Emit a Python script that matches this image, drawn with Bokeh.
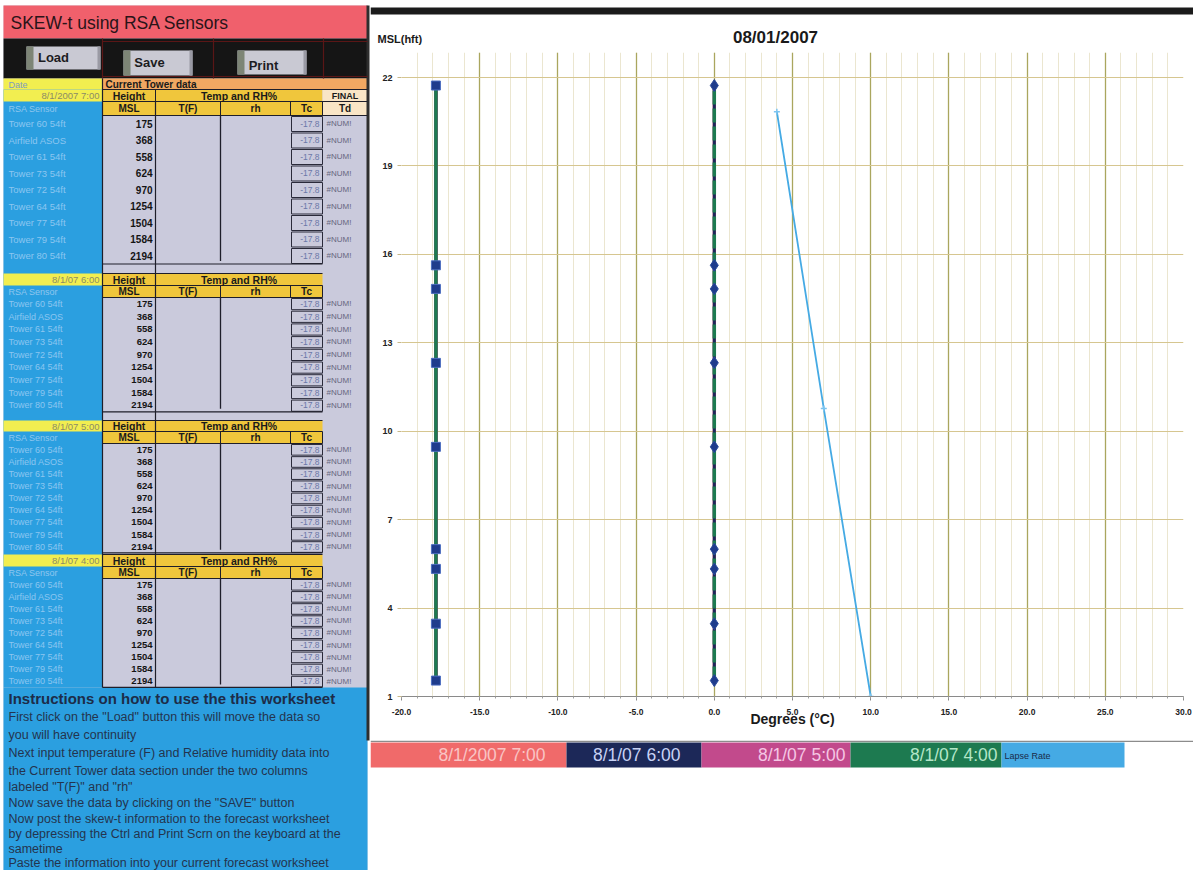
from collections import defaultdict

from bokeh.core.properties import value
from bokeh.embed import file_html
from bokeh.layouts import column, row
from bokeh.models import FixedTicker, NumeralTickFormatter, Range1d
from bokeh.plotting import figure
from bokeh.resources import INLINE

# ---------------------------------------------------------------- data
run_times = ["8/1/2007 7:00", "8/1/07 6:00", "8/1/07 5:00", "8/1/07 4:00"]
run_colors = ["#f06a6a", "#1c2858", "#c24a8c", "#1d7a50"]
lapse_label = "Lapse Rate"
lapse_color = "#45aae4"

sensor_names = ["Tower 60 54ft", "Airfield ASOS", "Tower 61 54ft", "Tower 73 54ft",
                "Tower 72 54ft", "Tower 64 54ft", "Tower 77 54ft", "Tower 79 54ft",
                "Tower 80 54ft"]
msl_ft = [175, 368, 558, 624, 970, 1254, 1504, 1584, 2194]
tc_table = ["-17.8", "-17.8", "-17.8", "-17.8", "-17.8", "-17.8", "-17.8", "-17.8", "-17.8"]
td_table = ["#NUM!", "#NUM!", "#NUM!", "#NUM!", "#NUM!", "#NUM!", "#NUM!", "#NUM!", "#NUM!"]

# plotted sounding (heights in hundreds of feet)
plot_height_hft = [1.54, 3.47, 5.33, 6.00, 9.47, 12.32, 14.83, 15.63, 21.73]
tc_7 = [-17.8, -17.8, -17.8, -17.8, -17.8, -17.8, -17.8, -17.8, -17.8]
tc_6 = [-17.8, -17.8, -17.8, -17.8, -17.8, -17.8, -17.8, -17.8, -17.8]
tc_5 = [-17.8, -17.8, -17.8, -17.8, -17.8, -17.8, -17.8, -17.8, -17.8]
tc_4 = [-17.8, -17.8, -17.8, -17.8, -17.8, -17.8, -17.8, -17.8, -17.8]
td_7 = [0.0, 0.0, 0.0, 0.0, 0.0, 0.0, 0.0, 0.0, 0.0]
td_6 = [0.0, 0.0, 0.0, 0.0, 0.0, 0.0, 0.0, 0.0, 0.0]
td_5 = [0.0, 0.0, 0.0, 0.0, 0.0, 0.0, 0.0, 0.0, 0.0]
td_4 = [0.0, 0.0, 0.0, 0.0, 0.0, 0.0, 0.0, 0.0, 0.0]
lapse_temp = [10.0, 7.0, 4.0]
lapse_height = [1.0, 10.77, 20.84]

x_ticks = [-20, -15, -10, -5, 0, 5, 10, 15, 20, 25, 30]
y_ticks = [1, 4, 7, 10, 13, 16, 19, 22]
chart_date = "08/01/2007"
y_title = "MSL(hft)"
x_title = "Degrees (°C)"

instructions_title = "Instructions on how to use the this worksheet"
instructions = [
    "First click on the \"Load\" button this will move the data so",
    "you will have continuity",
    "Next input temperature (F) and Relative humidity data into",
    " the Current Tower data section under the two columns",
    " labeled \"T(F)\" and \"rh\"",
    "Now save the data by clicking on the \"SAVE\" button",
    "Now post the skew-t information to the forecast worksheet",
    "by depressing the Ctrl and Print Scrn on the keyboard at the",
    "sametime",
    "Paste the information into your current forecast worksheet",
]

FONT = "Liberation Sans"


class Sheet:
    """Collects boxes, rules and texts for a pixel-space panel and draws them grouped."""

    def __init__(self, fig):
        self.fig = fig
        self.q = dict(left=[], right=[], top=[], bottom=[], color=[])
        self.fr = defaultdict(lambda: dict(left=[], right=[], top=[], bottom=[]))
        self.seg = defaultdict(lambda: dict(x0=[], y0=[], x1=[], y1=[]))
        self.txt = defaultdict(lambda: dict(x=[], y=[], text=[]))

    def box(self, x0, x1, y0, y1, c):
        self.q["left"].append(x0); self.q["right"].append(x1)
        self.q["top"].append(y0); self.q["bottom"].append(y1)
        self.q["color"].append(c)

    def frame(self, x0, x1, y0, y1, c="#2a2a3a", w=1):
        d = self.fr[(c, w)]
        d["left"].append(x0); d["right"].append(x1); d["top"].append(y0); d["bottom"].append(y1)

    def rule(self, x0, y0, x1, y1, c="#1e1e2a", w=1):
        d = self.seg[(c, w)]
        d["x0"].append(x0); d["y0"].append(y0); d["x1"].append(x1); d["y1"].append(y1)

    def text(self, x, y, s, size=9, color="#111111", bold=False, align="left", font=FONT):
        d = self.txt[(size, color, bold, align, font)]
        d["x"].append(x); d["y"].append(y); d["text"].append(s)

    def render(self):
        f = self.fig
        f.quad(left="left", right="right", top="top", bottom="bottom", fill_color="color",
               line_color=None, source=self.q)
        for (c, w), d in self.fr.items():
            f.quad(fill_color=None, line_color=c, line_width=w, **d)
        for (c, w), d in self.seg.items():
            f.segment(line_color=c, line_width=w, **d)
        for (size, color, bold, align, font), d in self.txt.items():
            f.text(x=d["x"], y=d["y"], text=d["text"], text_font=value(font),
                   text_font_size=f"{size}px", text_font_style="bold" if bold else "normal",
                   text_color=color, text_align=align, text_baseline="middle")


def pixel_fig(w, h, x0, y0):
    f = figure(width=w, height=h, x_range=Range1d(x0, x0 + w), y_range=Range1d(y0 + h, y0),
               x_axis_type=None, y_axis_type=None, output_backend="svg",
               toolbar_location=None, min_border=0, outline_line_color=None,
               background_fill_color="white", border_fill_color="white")
    f.frame_align = False
    return f


# ---------------------------------------------------------------- worksheet panel
left = pixel_fig(370, 870, 0, 0)
s = Sheet(left)

LAV = "#cacadc"
BLUE = "#2b9fe0"
YEL = "#f2ee50"
GOLD = "#f0c63c"
PEACH = "#f9e5c6"
DARK = "#1e1e2a"
HEAD = "#1a1a1a"

s.box(3, 367, 5, 870, LAV)
s.box(3, 367, 5, 38, "#f0606c")
s.text(10, 22, "SKEW-t using RSA Sensors", 17.5, "#2a1418")

# button strip
s.box(3, 367, 38, 78, "#151515")
for xv in (102, 213, 323):
    s.rule(xv, 38, xv, 78, "#5a1616", 1.2)
for yv in (41, 76):
    s.rule(102, yv, 367, yv, "#5a1616", 1.2)
for (bx0, bx1, by0, by1, label, tx, ty) in [(26, 100, 46, 69, "Load", 53, 57),
                                            (123, 192, 50, 75, "Save", 149, 62),
                                            (237, 306, 50, 74, "Print", 263, 65)]:
    s.box(bx0, bx1, by0, by1, "#c9c9d3")
    s.box(bx0, bx0 + 7, by0, by1, "#7d8576")
    s.box(bx1 - 3, bx1, by0, by1, "#9a9aa4")
    s.text(tx, ty, label, 13, "#1c1c22", bold=True, align="center")

# first header line
s.box(3, 102, 78, 89, YEL)
s.text(8, 84, "Date", 9, "#7d9cc0")
s.box(102, 367, 78, 89, "#f2a862")
s.text(105, 84, "Current Tower data", 10, HEAD, bold=True)

# sensor column
s.box(3, 102, 89, 687, BLUE)

blocks = [
    dict(head=(89, 101), sub=(101, 115), row0=115, rowh=16.5, fs=10),
    dict(head=(273, 285), sub=(285, 297), row0=297, rowh=12.7, fs=9.5),
    dict(head=(420, 431), sub=(431, 443), row0=443, rowh=12.15, fs=9.5),
    dict(head=(554, 566), sub=(566, 578), row0=578, rowh=12.1, fs=9.5),
]
for k, b in enumerate(blocks):
    hy0, hy1 = b["head"]
    sy0, sy1 = b["sub"]
    hm, sm = (hy0 + hy1) / 2, (sy0 + sy1) / 2
    rows_end = b["row0"] + 9 * b["rowh"]
    right_edge = 367 if k == 0 else 322

    s.box(3, 102, hy0, hy1, YEL)
    s.text(99, hm, run_times[k], 9.5, "#8c8c66", align="right")
    s.box(102, 155, hy0, hy1, GOLD)
    s.text(128.5, hm, "Height", 10.5, HEAD, bold=True, align="center")
    s.box(155, 322, hy0, hy1, GOLD)
    s.text(238.5, hm, "Temp and RH%", 10.5, HEAD, bold=True, align="center")
    s.text(8, sm, "RSA Sensor", 9, "#8fc6ee")
    for (cx0, cx1, lab) in [(102, 155, "MSL"), (155, 220, "T(F)"), (220, 290, "rh"), (290, 322, "Tc")]:
        s.box(cx0, cx1, sy0, sy1, GOLD)
        s.text((cx0 + cx1) / 2, sm, lab, 10, HEAD, bold=True, align="center")
        s.rule(cx1, sy0, cx1, sy1, DARK, 1)
    if k == 0:
        s.box(322, 367, hy0, hy1, PEACH)
        s.text(344.5, hm, "FINAL", 9, HEAD, bold=True, align="center")
        s.box(322, 367, sy0, sy1, PEACH)
        s.text(344.5, sm, "Td", 10, HEAD, bold=True, align="center")

    # cell rules
    for yv in (hy0, sy0, sy1):
        s.rule(102, yv, right_edge, yv, DARK, 1.2)
    s.rule(102, rows_end, 322, rows_end, DARK, 1.2)
    s.rule(220, sy1, 220, rows_end - 3, DARK, 1.3)
    s.rule(155, hy0, 155, hy1, DARK, 1)

    for i in range(9):
        y0 = b["row0"] + i * b["rowh"]
        ym = y0 + b["rowh"] / 2
        s.text(8, ym, sensor_names[i], b["fs"] - 0.5, "#8cc6f0")
        s.text(152, ym, str(msl_ft[i]), b["fs"], "#141414", bold=True, align="right")
        s.frame(291, 322, y0 + 1, y0 + b["rowh"] - 0.5, "#2a2a3a", 1)
        s.text(319, ym, tc_table[i], 8.5, "#6a78a8", align="right")
        s.text(326, ym, td_table[i], 8, "#66667e")

# vertical rules through the table
s.rule(102, 78, 102, 687, DARK, 1.2)
s.rule(155, 101, 155, 687, DARK, 1.2)

# instructions
s.box(3, 367, 687, 870, BLUE)
s.text(8, 698, instructions_title, 15, "#1d2c48", bold=True)
instr_y = [716, 734, 752, 770, 786, 802, 818, 833, 848, 862]
for yv, line in zip(instr_y, instructions):
    s.text(8, yv, line, 12.5, "#24344e")

# chart frame edge
s.box(366, 369, 5, 740, "#2e2e2e")
s.render()

# ---------------------------------------------------------------- chart heading strip
top = pixel_fig(823, 50, 370, 0)
t = Sheet(top)
t.box(370, 1193, 7, 14, "#1b1b1b")
t.text(377, 38, y_title, 11, "#1a1a1a", bold=True)
t.text(775, 37, chart_date, 17, "#1a1a1a", bold=True, align="center")
t.render()

# ---------------------------------------------------------------- chart
p = figure(width=823, height=690, x_range=Range1d(-20, 30), y_range=Range1d(1, 22.85),
           output_backend="svg", toolbar_location=None,
           min_border_left=31, min_border_right=10, min_border_top=2, min_border_bottom=44,
           background_fill_color="white", border_fill_color="white", outline_line_color=None)
p.frame_align = False

p.xaxis.ticker = FixedTicker(ticks=x_ticks, minor_ticks=list(range(-20, 31)))
p.xaxis.formatter = NumeralTickFormatter(format="0.0")
p.xaxis.major_label_text_font = FONT
p.xaxis.major_label_text_font_size = "8.5px"
p.xaxis.major_label_text_font_style = "bold"
p.xaxis.major_label_text_color = "#222222"
p.xaxis.major_label_standoff = 8
p.xaxis.axis_line_color = "#8a8a8a"
p.xaxis.major_tick_line_color = "#8a8a8a"
p.xaxis.minor_tick_line_color = "#a0a0a0"
p.xaxis.major_tick_in = 0
p.xaxis.major_tick_out = 4
p.xaxis.minor_tick_in = 0
p.xaxis.minor_tick_out = 2
p.xaxis.axis_label = x_title
p.xaxis.axis_label_text_font = FONT
p.xaxis.axis_label_text_font_size = "14px"
p.xaxis.axis_label_text_font_style = "bold"
p.xaxis.axis_label_text_color = "#1a1a1a"
p.xaxis.axis_label_standoff = -7

p.yaxis.ticker = FixedTicker(ticks=y_ticks, minor_ticks=[])
p.yaxis.major_label_text_font = FONT
p.yaxis.major_label_text_font_size = "9px"
p.yaxis.major_label_text_font_style = "bold"
p.yaxis.major_label_text_color = "#222222"
p.yaxis.major_label_standoff = 5
p.yaxis.axis_line_color = None
p.yaxis.major_tick_line_color = "#c8b888"
p.yaxis.major_tick_in = 0
p.yaxis.major_tick_out = 4

p.xgrid.grid_line_color = "#aaa65e"
p.xgrid.grid_line_width = 1.3
p.xgrid.minor_grid_line_color = "#ebe6d0"
p.xgrid.minor_grid_line_width = 1
p.ygrid.grid_line_color = "#d6c690"
p.ygrid.grid_line_width = 1

# temperature (Tc) traces, one per run; the last run sits on top
for tc, col in zip([tc_7, tc_6, tc_5, tc_4], run_colors):
    p.line(tc, plot_height_hft, line_color=col, line_width=3.5)
p.scatter(tc_4, plot_height_hft, marker="square", size=9, fill_color="#1f3c8c",
          line_color="#4a6cc0", line_width=1)

# dew point (Td) traces
for td, col in zip([td_7, td_5], [run_colors[0], run_colors[2]]):
    p.line(td, plot_height_hft, line_color=col, line_width=3)
p.line(td_6, plot_height_hft, line_color=run_colors[1], line_width=3)
p.line(td_4, plot_height_hft, line_color=run_colors[3], line_width=3.5, line_dash="14 4")
p.scatter(td_4, plot_height_hft, marker="diamond", size=12, fill_color="#1f3c8c",
          line_color="#2a4a9c", line_width=1)

# lapse rate
p.line(lapse_temp, lapse_height, line_color=lapse_color, line_width=1.8)
p.scatter(lapse_temp, lapse_height, marker="cross", size=6, line_color="#7cc4f0", line_width=1.5)

# ---------------------------------------------------------------- series key strip
strip = pixel_fig(823, 130, 370, 740)
k = Sheet(strip)
k.box(370, 1193, 740, 741.6, "#8c8c8c")
key_edges = [370, 566, 701, 850, 1001]
key_text_right = [545, 680, 845, 997]
key_text_colors = ["#f9c4c4", "#c8d2f5", "#f5c6e4", "#b4e6c8"]
for i, (name, col) in enumerate(zip(run_times, run_colors)):
    k.box(key_edges[i], key_edges[i + 1], 742, 767, col)
    k.text(key_text_right[i], 754.5, name, 17.5, key_text_colors[i], align="right")
k.box(1001, 1124, 742, 767, lapse_color)
k.text(1004, 755, lapse_label, 9, "#1a2a4a")
k.render()

layout = row(left, column(top, p, strip))
open("out.html", "w").write(file_html(layout, INLINE))
